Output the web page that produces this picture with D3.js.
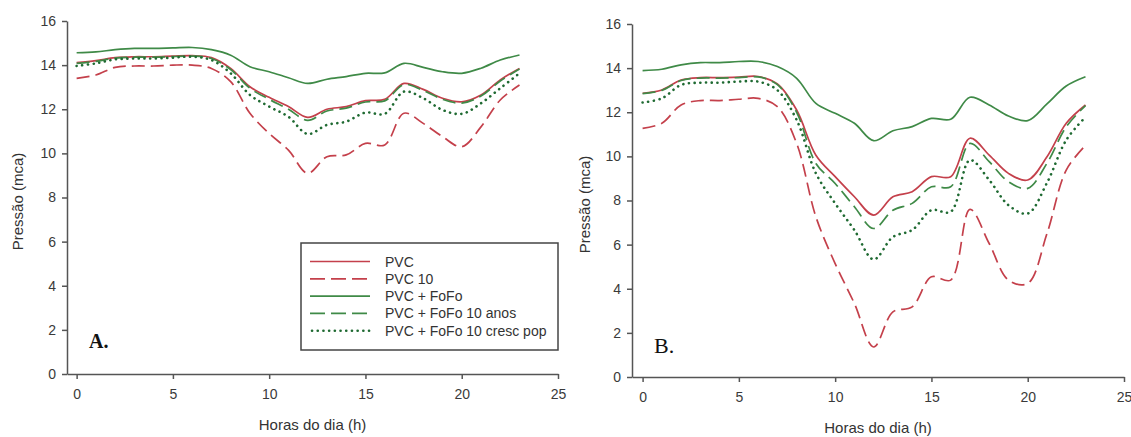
<!DOCTYPE html>
<html>
<head>
<meta charset="utf-8">
<script src="https://cdn.jsdelivr.net/npm/d3@7"></script>
<style>
  body { margin: 0; background: #fff; }
  svg { display: block; font-family: Arial, "Liberation Sans", sans-serif; }
  .axis path, .axis line { stroke: #555; stroke-width: 1.5; }
  .axis text { fill: #3a3a3a; font-size: 14px; }
</style>
</head>
<body>
<svg id="chart" width="1131" height="437"></svg>
<script>
// hours of the day
var hours = [0,1,2,3,4,5,6,7,8,9,10,11,12,13,14,15,16,17,18,19,20,21,22,23];
var xTicks = [0, 5, 10, 15, 20, 25];
var yTicks = [0, 2, 4, 6, 8, 10, 12, 14, 16];

var seriesNames = ["PVC", "PVC 10", "PVC + FoFo", "PVC + FoFo 10 anos", "PVC + FoFo 10 cresc pop"];

// panel A
var aPvc    = [14.11,14.2,14.34,14.38,14.38,14.41,14.43,14.34,13.85,13.02,12.54,12.12,11.63,12.0,12.12,12.39,12.45,13.17,12.9,12.5,12.34,12.65,13.33,13.85];
var aPvc10  = [13.4,13.55,13.9,13.96,13.96,14.0,14.0,13.85,13.25,11.82,10.9,10.15,9.1,9.85,9.93,10.45,10.38,11.82,11.36,10.76,10.3,11.2,12.42,13.1];
var aFofo   = [14.56,14.6,14.7,14.76,14.76,14.78,14.8,14.7,14.45,13.93,13.7,13.43,13.17,13.36,13.48,13.63,13.65,14.08,13.9,13.7,13.63,13.86,14.23,14.46];
var aFofo10 = [14.08,14.17,14.32,14.36,14.36,14.39,14.41,14.3,13.8,12.95,12.45,12.0,11.5,11.92,12.05,12.33,12.38,13.12,12.85,12.45,12.28,12.6,13.28,13.82];
var aPop    = [13.96,14.08,14.26,14.3,14.3,14.34,14.38,14.23,13.63,12.65,12.12,11.66,10.88,11.29,11.44,11.85,11.79,12.8,12.5,11.97,11.79,12.27,12.95,13.63];

// panel B
var bPvc    = [12.86,13.01,13.46,13.57,13.57,13.59,13.62,13.28,12.1,10.05,9.08,8.17,7.34,8.17,8.4,9.08,9.08,10.82,10.06,9.23,8.93,9.98,11.5,12.33];
var bPvc10  = [11.27,11.5,12.33,12.53,12.53,12.59,12.63,12.25,10.59,7.26,5.14,3.33,1.36,2.95,3.18,4.54,4.39,7.6,6.05,4.39,4.24,6.5,9.38,10.5];
var bFofo   = [13.89,13.95,14.15,14.25,14.25,14.3,14.3,14.07,13.54,12.4,11.95,11.5,10.71,11.16,11.35,11.72,11.68,12.68,12.33,11.83,11.62,12.38,13.19,13.61];
var bFofo10 = [12.84,12.99,13.44,13.55,13.55,13.57,13.6,13.25,12.0,9.68,8.77,7.72,6.73,7.56,7.87,8.62,8.62,10.59,9.76,8.85,8.55,9.69,11.34,12.3];
var bPop    = [12.44,12.63,13.24,13.34,13.34,13.39,13.39,13.0,11.65,9.23,7.87,6.66,5.33,6.35,6.66,7.56,7.49,9.83,8.93,7.79,7.41,8.8,10.74,11.78];

var red = "#c4404b", green = "#3f8a47", dotGreen = "#1f6a32";
var styles = [
  { color: red, dash: null },
  { color: red, dash: "13,6" },
  { color: green, dash: null },
  { color: green, dash: "13,6" },
  { color: dotGreen, dash: "0.1,5.6" }
];

var svg = d3.select("#chart");

function drawPanel(cfg) {
  var x = d3.scaleLinear().domain([cfg.x0, 25]).range([cfg.left, cfg.right]);
  var y = d3.scaleLinear().domain([0, 16]).range([cfg.bottom, cfg.top]);
  var g = svg.append("g");

  g.append("g").attr("class", "axis")
    .attr("transform", "translate(0," + cfg.bottom + ")")
    .call(d3.axisBottom(x).tickValues(xTicks).tickSize(5).tickSizeOuter(0).tickPadding(10));
  g.append("g").attr("class", "axis")
    .attr("transform", "translate(" + cfg.left + ",0)")
    .call(d3.axisLeft(y).tickValues(yTicks).tickSize(5).tickSizeOuter(0).tickPadding(6));

  var line = d3.line()
    .x(function(d, i) { return x(hours[i]); })
    .y(function(d) { return y(d); })
    .curve(d3.curveCatmullRom.alpha(0.5));

  cfg.series.forEach(function(s, i) {
    g.append("path")
      .attr("d", line(s))
      .attr("fill", "none")
      .attr("stroke", styles[i].color)
      .attr("stroke-width", i == 4 ? 2.6 : 1.7)
      .attr("stroke-linecap", i == 4 ? "round" : "butt")
      .attr("stroke-dasharray", styles[i].dash);
  });

  g.append("text")
    .attr("x", (cfg.left + cfg.right) / 2).attr("y", cfg.bottom + 56)
    .attr("text-anchor", "middle").attr("fill", "#333")
    .style("font-size", "15px")
    .text("Horas do dia (h)");

  g.append("text")
    .attr("transform", "translate(" + cfg.ytitleX + "," + ((cfg.top + cfg.bottom) / 2 + 4) + ") rotate(-90)")
    .attr("text-anchor", "middle").attr("fill", "#333")
    .style("font-size", "15px")
    .text("Pressão (mca)");

  g.append("text")
    .attr("x", cfg.tagX).attr("y", cfg.tagY)
    .attr("fill", "#111")
    .style("font-family", "'Liberation Serif', 'DejaVu Serif', serif")
    .style("font-size", cfg.tagSize + "px")
    .style("font-weight", cfg.tagBold ? "bold" : "normal")
    .text(cfg.tag);
}

drawPanel({ left: 67, right: 558, top: 21, bottom: 374, x0: -0.5, ytitleX: 23,
  series: [aPvc, aPvc10, aFofo, aFofo10, aPop], tag: "A.", tagX: 89, tagY: 348, tagSize: 20, tagBold: true });
drawPanel({ left: 632, right: 1124, top: 24, bottom: 377, x0: -0.55, ytitleX: 590,
  series: [bPvc, bPvc10, bFofo, bFofo10, bPop], tag: "B.", tagX: 654, tagY: 353, tagSize: 22, tagBold: false });

// legend (panel A)
var legend = svg.append("g").attr("transform", "translate(301,243)");
legend.append("rect").attr("width", 257).attr("height", 107)
  .attr("fill", "#fff").attr("stroke", "#444").attr("stroke-width", 1.5);
seriesNames.forEach(function(name, i) {
  var ry = 18.5 + i * 17.3;
  legend.append("line")
    .attr("x1", i == 4 ? 11 : 9).attr("x2", 69).attr("y1", ry).attr("y2", ry)
    .attr("stroke", styles[i].color)
    .attr("stroke-width", i == 4 ? 2.6 : 1.7)
    .attr("stroke-linecap", i == 4 ? "round" : "butt")
    .attr("stroke-dasharray", i == 1 || i == 3 ? "15,6" : styles[i].dash);
  legend.append("text")
    .attr("x", 84).attr("y", ry + 5)
    .attr("fill", "#333").style("font-size", "14px")
    .text(name);
});
</script>
</body>
</html>
